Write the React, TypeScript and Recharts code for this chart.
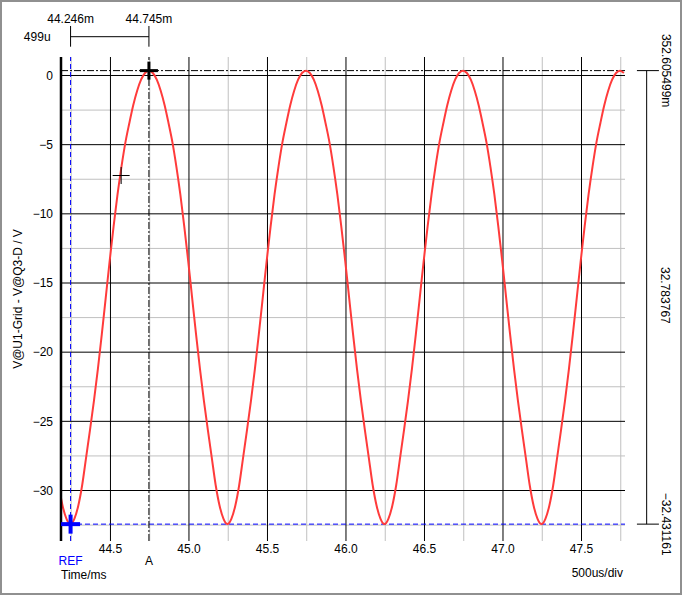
import React from 'react';
import {
  ComposedChart,
  Line,
  XAxis,
  YAxis,
  ReferenceLine,
  ReferenceDot,
} from 'recharts';

// trace sampling (ms)
const SAMPLE_START = 44.17;
const SAMPLE_STEP = 0.025;

// V@U1-Grid - V@Q3-D
const leadIn = [-29.6, -31.1, -32.05];
const cycle1 = [
  -32.43, -32.05, -31.1, -29.6, -27.6, -25.6, -23.5, -21.2, -18.7, -16.05,
  -13.4, -10.9, -8.6, -6.6, -4.85, -3.45, -2.15, -1.1, -0.3, 0.18,
  0.35, 0.18, -0.3, -1.1, -2.15, -3.45, -4.85, -6.6, -8.6, -10.9,
  -13.4, -16.05, -18.7, -21.2, -23.5, -25.6, -27.6, -29.6, -31.1, -32.05,
];
const cycle2 = [
  -32.43, -32.05, -31.1, -29.6, -27.6, -25.6, -23.5, -21.2, -18.7, -16.05,
  -13.4, -10.9, -8.6, -6.6, -4.85, -3.45, -2.15, -1.1, -0.3, 0.18,
  0.35, 0.18, -0.3, -1.1, -2.15, -3.45, -4.85, -6.6, -8.6, -10.9,
  -13.4, -16.05, -18.7, -21.2, -23.5, -25.6, -27.6, -29.6, -31.1, -32.05,
];
const cycle3 = [
  -32.43, -32.05, -31.1, -29.6, -27.6, -25.6, -23.5, -21.2, -18.7, -16.05,
  -13.4, -10.9, -8.6, -6.6, -4.85, -3.45, -2.15, -1.1, -0.3, 0.18,
  0.35, 0.18, -0.3, -1.1, -2.15, -3.45, -4.85, -6.6, -8.6, -10.9,
  -13.4, -16.05, -18.7, -21.2, -23.5, -25.6, -27.6, -29.6, -31.1, -32.05,
];
const tail = [
  -32.43, -32.05, -31.1, -29.6, -27.6, -25.6, -23.5, -21.2, -18.7, -16.05,
  -13.4, -10.9, -8.6, -6.6, -4.85, -3.45, -2.15, -1.1, -0.3, 0.18,
  0.35, 0.18,
];

const xTicks = [44.5, 45.0, 45.5, 46.0, 46.5, 47.0, 47.5];
const xMinorTicks = [44.25, 44.75, 45.25, 45.75, 46.25, 46.75, 47.25, 47.75];
const yTicks = [0, -5, -10, -15, -20, -25, -30];
const yMinorTicks = [-2.5, -7.5, -12.5, -17.5, -22.5, -27.5, -32.5];

// cursors
const refCursor = { t: 44.246, v: -32.431161, name: 'REF', time: '44.246m' };
const aCursor = { t: 44.745, v: 0.352605499, name: 'A', time: '44.745m' };
const probePoint = { t: 44.568, v: -7.23 };
const deltaText = '499u';
const topValueText = '352.605499m';
const spanText = '32.783767';
const bottomValueText = '\u221232.431161';

const traceValues = [...leadIn, ...cycle1, ...cycle2, ...cycle3, ...tail];
const traceData = traceValues.map((v, i) => ({
  t: +(SAMPLE_START + i * SAMPLE_STEP).toFixed(3),
  v,
}));

// layout (data units outside the plot, for the annotations)
const X_DOMAIN: [number, number] = [44.185, 47.777];
const Y_DOMAIN: [number, number] = [-33.65, 1.337];
const BRACKET_Y = 2.805;
const BRACKET_TOP = 3.578;
const BRACKET_BOTTOM = 2.082;
const SIDE_X = 47.915;
const SIDE_FROM = 47.853;
const SIDE_TO = 47.993;

const FONT = '"Liberation Sans", Arial, sans-serif';
const GRID_GRAY = '#c0c0c0';
const TRACE_RED = '#ff3b3b';
const DASH_DOT = '7 2 2 2';

const minusFmt = (v: number) => (v < 0 ? '\u2212' + Math.abs(v) : String(v));

const crossShape = (color: string, arm: number, thick: number) => (p: any) => (
  <g>
    <rect x={p.cx - arm} y={p.cy - thick / 2} width={arm * 2} height={thick} fill={color} />
    <rect x={p.cx - thick / 2} y={p.cy - arm} width={thick} height={arm * 2} fill={color} />
  </g>
);

const sideLabel = (text: string, dx: number, mid: boolean) => (props: any) => {
  const vb = props.viewBox || {};
  const x = vb.x + (vb.width || 0) + dx;
  const y = mid ? vb.y + (vb.height || 0) / 2 - 2 : vb.y;
  return (
    <text
      x={x}
      y={y}
      transform={`rotate(90 ${x} ${y})`}
      textAnchor="middle"
      fontFamily={FONT}
      fontSize={12}
      fill="#000"
    >
      {text}
    </text>
  );
};

const App: React.FC = () => {
  return (
    <div
      style={{
        position: 'absolute',
        left: 0,
        top: 0,
        width: 682,
        height: 595,
        boxSizing: 'border-box',
        border: '2px solid #909090',
        background: '#fff',
      }}
    >
      <div style={{ position: 'absolute', left: -2, top: -2 }}>
        <ComposedChart
          width={682}
          height={595}
          data={traceData}
          margin={{ top: 57, right: 57, bottom: 24, left: 21 }}
        >
          <XAxis
            dataKey="t"
            type="number"
            domain={X_DOMAIN}
            allowDataOverflow
            ticks={xTicks}
            tickFormatter={(v) => Number(v).toFixed(1)}
            axisLine={false}
            tickLine={false}
            tickSize={0}
            tickMargin={3}
            height={30}
            tick={{ fill: '#000', fontSize: 12, fontFamily: FONT }}
            label={{
              content: (props: any) => {
                const vb = props.viewBox || {};
                return (
                  <g fontFamily={FONT} fontSize={12} fill="#000">
                    <text x={vb.x} y={vb.y + 38}>Time/ms</text>
                    <text x={vb.x + vb.width - 2} y={vb.y + 36} textAnchor="end">
                      500us/div
                    </text>
                  </g>
                );
              },
            }}
          />
          <YAxis
            type="number"
            domain={Y_DOMAIN}
            allowDataOverflow
            ticks={yTicks}
            tickFormatter={minusFmt}
            axisLine={{ stroke: '#000', strokeWidth: 2.5 }}
            tickLine={false}
            tickSize={0}
            tickMargin={8}
            width={40}
            tick={{ fill: '#000', fontSize: 12, fontFamily: FONT }}
            label={{
              content: (props: any) => {
                const vb = props.viewBox || {};
                const x = vb.x + 1;
                const y = vb.y + vb.height / 2;
                return (
                  <text
                    x={x}
                    y={y}
                    transform={`rotate(-90 ${x} ${y})`}
                    textAnchor="middle"
                    fontFamily={FONT}
                    fontSize={12}
                    fill="#000"
                  >
                    V@U1-Grid - V@Q3-D / V
                  </text>
                );
              },
            }}
          />

          {yMinorTicks.map((v) => (
            <ReferenceLine key={`ym${v}`} y={v} stroke={GRID_GRAY} strokeWidth={1} />
          ))}
          {xMinorTicks.map((t) => (
            <ReferenceLine key={`xm${t}`} x={t} stroke={GRID_GRAY} strokeWidth={1} />
          ))}
          {yTicks.map((v) => (
            <ReferenceLine key={`y${v}`} y={v} stroke="#000" strokeWidth={1} />
          ))}
          {xTicks.map((t) => (
            <ReferenceLine key={`x${t}`} x={t} stroke="#000" strokeWidth={1} />
          ))}

          <ReferenceLine y={aCursor.v} stroke="#000" strokeDasharray={DASH_DOT} />
          <ReferenceLine y={refCursor.v} stroke="#0000ff" strokeDasharray="5 3" />
          <ReferenceLine
            x={refCursor.t}
            stroke="#0000ff"
            strokeDasharray="5 3"
            label={{ value: refCursor.name, position: 'bottom', offset: 15.5, fill: '#0000ff', fontSize: 12, fontFamily: FONT }}
          />
          <ReferenceLine
            x={aCursor.t}
            stroke="#000"
            strokeDasharray={DASH_DOT}
            label={{ value: aCursor.name, position: 'bottom', offset: 15.5, fill: '#000', fontSize: 12, fontFamily: FONT }}
          />

          <Line
            type="monotone"
            dataKey="v"
            stroke={TRACE_RED}
            strokeWidth={2}
            dot={false}
            activeDot={false}
            isAnimationActive={false}
          />

          <ReferenceDot x={probePoint.t} y={probePoint.v} r={8} shape={crossShape('#000', 8.5, 1)} />
          <ReferenceDot x={aCursor.t} y={aCursor.v} r={9} ifOverflow="visible" shape={crossShape('#000', 9, 3)} />
          <ReferenceDot x={refCursor.t} y={refCursor.v} r={9} ifOverflow="visible" shape={crossShape('#0000ff', 9.5, 4)} />

          {/* delta bracket above the plot */}
          <ReferenceLine
            ifOverflow="visible"
            segment={[{ x: refCursor.t, y: BRACKET_Y }, { x: aCursor.t, y: BRACKET_Y }]}
            stroke="#000"
            label={{ value: deltaText, position: 'left', offset: 20, fill: '#000', fontSize: 12, fontFamily: FONT }}
          />
          <ReferenceLine
            ifOverflow="visible"
            segment={[{ x: refCursor.t, y: BRACKET_TOP }, { x: refCursor.t, y: BRACKET_BOTTOM }]}
            stroke="#000"
            label={{ value: refCursor.time, position: 'top', offset: 3.3, fill: '#000', fontSize: 12, fontFamily: FONT }}
          />
          <ReferenceLine
            ifOverflow="visible"
            segment={[{ x: aCursor.t, y: BRACKET_TOP }, { x: aCursor.t, y: BRACKET_BOTTOM }]}
            stroke="#000"
            label={{ value: aCursor.time, position: 'top', offset: 3.3, fill: '#000', fontSize: 12, fontFamily: FONT }}
          />

          {/* value span on the right */}
          <ReferenceLine
            ifOverflow="visible"
            segment={[{ x: SIDE_X, y: aCursor.v }, { x: SIDE_X, y: refCursor.v }]}
            stroke="#000"
            label={{ content: sideLabel(spanText, 14, true) }}
          />
          <ReferenceLine
            ifOverflow="visible"
            segment={[{ x: SIDE_FROM, y: aCursor.v }, { x: SIDE_TO, y: aCursor.v }]}
            stroke="#000"
            label={{ content: sideLabel(topValueText, 3.5, false) }}
          />
          <ReferenceLine
            ifOverflow="visible"
            segment={[{ x: SIDE_FROM, y: refCursor.v }, { x: SIDE_TO, y: refCursor.v }]}
            stroke="#000"
            label={{ content: sideLabel(bottomValueText, 3.5, false) }}
          />
        </ComposedChart>
      </div>
    </div>
  );
};

export default App;
